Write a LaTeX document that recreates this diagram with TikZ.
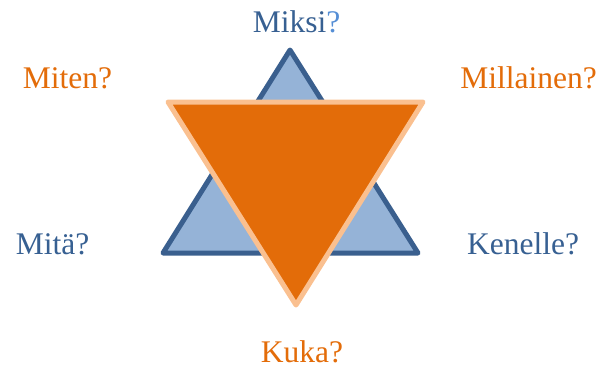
\documentclass[tikz,border=0pt]{standalone}
\usepackage{fontspec}
\setmainfont{Liberation Serif}
\definecolor{bluefill}{HTML}{95B3D7}
\definecolor{bluestroke}{HTML}{3A5F8E}
\definecolor{bluetext}{HTML}{376092}
\definecolor{bluelight}{HTML}{558ED5}
\definecolor{orfill}{HTML}{E36C09}
\definecolor{orstroke}{HTML}{FAC090}
\definecolor{ortext}{HTML}{E36C09}
\begin{document}
\begin{tikzpicture}[x=1pt,y=-1pt,
  lbl/.style={font=\fontsize{31.5}{36}\selectfont, inner sep=0pt, anchor=base},
  bluelbl/.style={lbl, text=bluetext},
  orlbl/.style={lbl, text=ortext},
  tri/.style={line width=5pt, line join=round}]
\useasboundingbox (0,0) rectangle (598,370);
\coordinate (ba) at (290,50);
\coordinate (bl) at (163,253);
\coordinate (br) at (418,253);
\coordinate (ol) at (168,102);
\coordinate (or) at (423,102);
\coordinate (ob) at (296,305);
\draw[tri, draw=bluestroke, fill=bluefill] (ba) -- (br) -- (bl) -- cycle;
\draw[tri, draw=orstroke, fill=orfill] (ol) -- (or) -- (ob) -- cycle;
\node[bluelbl] (miksi) at (296.5,32) {Miksi\textcolor{bluelight}{?}};
\node[orlbl] (miten) at (67.5,88) {Miten?};
\node[orlbl] (millainen) at (528.5,88) {Millainen?};
\node[bluelbl] (mita) at (52.5,254) {Mitä?};
\node[bluelbl] (kenelle) at (523,254) {Kenelle?};
\node[orlbl] (kuka) at (302,362) {Kuka?};
\end{tikzpicture}
\end{document}
